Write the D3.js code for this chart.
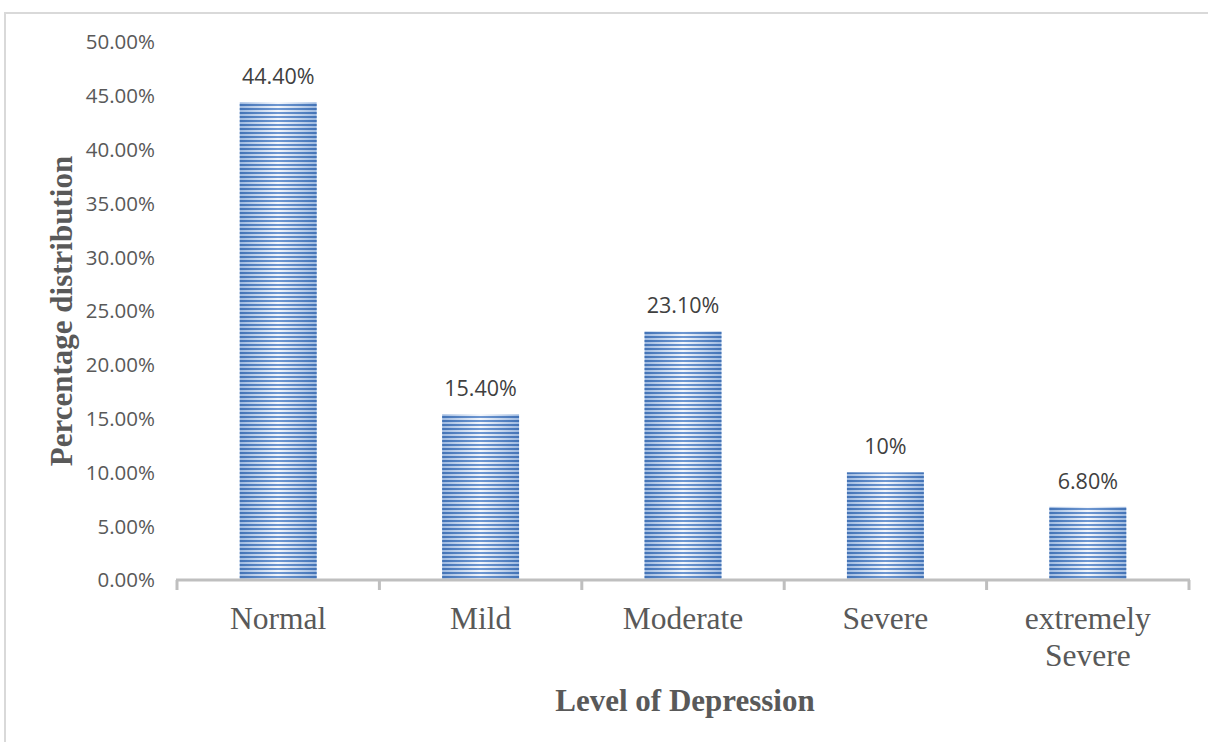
<!DOCTYPE html>
<html>
<head>
<meta charset="utf-8">
<script src="https://cdn.jsdelivr.net/npm/d3@7"></script>
<style>
  html, body { margin: 0; padding: 0; background: #fff; overflow: hidden; }
  svg { display: block; }
</style>
</head>
<body>
<svg id="chart" width="1208" height="742"></svg>
<script>
// Depression level distribution
const categories = [["Normal"], ["Mild"], ["Moderate"], ["Severe"], ["extremely", "Severe"]];
const values = [44.4, 15.4, 23.1, 10, 6.8];
const valueLabels = ["44.40%", "15.40%", "23.10%", "10%", "6.80%"];
const yTicks = [0, 5, 10, 15, 20, 25, 30, 35, 40, 45, 50];

const svg = d3.select("#chart");
const W = 1208, H = 742;
const plot = { left: 177, right: 1189, top: 42, bottom: 580 };

// Chart frame
svg.append("rect")
  .attr("x", 5).attr("y", 13)
  .attr("width", W + 20).attr("height", H + 20)
  .attr("fill", "#fff")
  .attr("stroke", "#d9d9d9").attr("stroke-width", 2);

const x = d3.scaleBand()
  .domain(categories.map((d, i) => i))
  .range([plot.left, plot.right])
  .paddingInner(0.62).paddingOuter(0.31);

const y = d3.scaleLinear().domain([0, 50]).range([plot.bottom, plot.top]);

// Striped fill: light gradient base with dark horizontal lines on top
const defs = svg.append("defs");
const lightGrad = defs.append("linearGradient").attr("id", "lightGrad")
  .attr("x1", "0%").attr("x2", "100%").attr("y1", "0%").attr("y2", "0%");
lightGrad.append("stop").attr("offset", "0%").attr("stop-color", "#9db9e0");
lightGrad.append("stop").attr("offset", "50%").attr("stop-color", "#f4f7fc");
lightGrad.append("stop").attr("offset", "100%").attr("stop-color", "#9db9e0");

const darkGrad = defs.append("linearGradient").attr("id", "darkGrad")
  .attr("x1", "0%").attr("x2", "100%").attr("y1", "0%").attr("y2", "0%");
darkGrad.append("stop").attr("offset", "0%").attr("stop-color", "#4373b6");
darkGrad.append("stop").attr("offset", "50%").attr("stop-color", "#6e97d1");
darkGrad.append("stop").attr("offset", "100%").attr("stop-color", "#4373b6");

const stripePat = defs.append("pattern").attr("id", "stripes")
  .attr("patternUnits", "userSpaceOnUse")
  .attr("width", 8).attr("height", 4)
  .attr("y", plot.bottom);
stripePat.append("rect").attr("x", 0).attr("y", 0).attr("width", 8).attr("height", 2).attr("fill", "#fff");

defs.append("mask").attr("id", "stripeMask")
  .attr("maskUnits", "userSpaceOnUse")
  .attr("x", 0).attr("y", 0).attr("width", W).attr("height", H)
  .append("rect").attr("x", 0).attr("y", 0).attr("width", W).attr("height", H)
  .attr("fill", "url(#stripes)");

const bars = svg.append("g");
values.forEach((v, i) => {
  const bx = x(i), bw = x.bandwidth(), by = y(v), bh = y(0) - y(v);
  bars.append("rect").attr("x", bx).attr("y", by).attr("width", bw).attr("height", bh)
    .attr("fill", "url(#lightGrad)");
  bars.append("rect").attr("x", bx).attr("y", by).attr("width", bw).attr("height", bh)
    .attr("fill", "url(#darkGrad)").attr("mask", "url(#stripeMask)");
});

// Value labels
svg.append("g").selectAll("text").data(values).join("text")
  .attr("x", (d, i) => x(i) + x.bandwidth() / 2)
  .attr("y", d => y(d) - 18)
  .attr("text-anchor", "middle")
  .attr("font-family", "'Open Sans', sans-serif")
  .attr("font-size", 21.5)
  .attr("fill", "#404040")
  .text((d, i) => valueLabels[i]);

// Y tick labels
svg.append("g").selectAll("text").data(yTicks).join("text")
  .attr("x", 155)
  .attr("y", d => y(d))
  .attr("dy", "0.36em")
  .attr("text-anchor", "end")
  .attr("font-family", "'Open Sans', sans-serif")
  .attr("font-size", 20.5)
  .attr("fill", "#595959")
  .text(d => d.toFixed(2) + "%");

// X axis line with boundary ticks
const axisG = svg.append("g");
const boundaries = d3.range(categories.length + 1).map(i => plot.left + i * (plot.right - plot.left) / categories.length);
axisG.append("line")
  .attr("x1", plot.left - 1).attr("x2", plot.right + 1)
  .attr("y1", plot.bottom).attr("y2", plot.bottom)
  .attr("stroke", "#bfbfbf").attr("stroke-width", 3);
axisG.selectAll("line.tick").data(boundaries).join("line")
  .attr("class", "tick")
  .attr("x1", d => d).attr("x2", d => d)
  .attr("y1", plot.bottom).attr("y2", plot.bottom + 10)
  .attr("stroke", "#bfbfbf").attr("stroke-width", 3);

// Category labels
const catG = svg.append("g");
categories.forEach((lines, i) => {
  const t = catG.append("text")
    .attr("x", x(i) + x.bandwidth() / 2)
    .attr("y", 629)
    .attr("text-anchor", "middle")
    .attr("font-family", "'Liberation Serif', 'Times New Roman', serif")
    .attr("font-size", 31.5)
    .attr("fill", "#595959");
  lines.forEach((ln, k) => {
    t.append("tspan").attr("x", x(i) + x.bandwidth() / 2).attr("dy", k === 0 ? 0 : 37).text(ln);
  });
});

// Axis titles
svg.append("text")
  .attr("x", 685).attr("y", 711)
  .attr("text-anchor", "middle")
  .attr("font-family", "'Liberation Serif', 'Times New Roman', serif")
  .attr("font-weight", "bold")
  .attr("font-size", 31)
  .attr("fill", "#595959")
  .text("Level of Depression");

svg.append("text")
  .attr("transform", "translate(72,311) rotate(-90)")
  .attr("text-anchor", "middle")
  .attr("font-family", "'Liberation Serif', 'Times New Roman', serif")
  .attr("font-weight", "bold")
  .attr("font-size", 31)
  .attr("fill", "#595959")
  .text("Percentage distribution");
</script>
</body>
</html>
